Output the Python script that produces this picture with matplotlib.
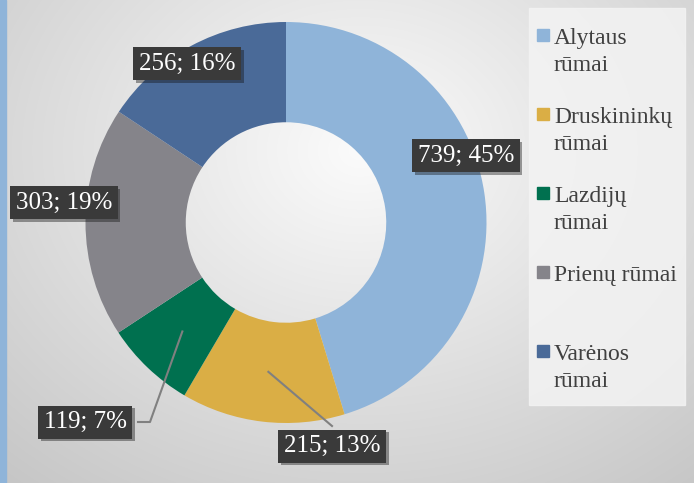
import numpy as np
import matplotlib
matplotlib.use("Agg")
import matplotlib.pyplot as plt
from matplotlib.patches import Rectangle
import matplotlib.patheffects as pe

plt.rcParams["font.family"] = ["Liberation Serif", "DejaVu Serif"]

categories = ["Alytaus rūmai", "Druskininkų rūmai", "Lazdijų rūmai", "Prienų rūmai", "Varėnos rūmai"]
legend_labels = ["Alytaus\nrūmai", "Druskininkų\nrūmai", "Lazdijų\nrūmai", "Prienų rūmai", "Varėnos\nrūmai"]
values = [739, 215, 119, 303, 256]
colors = ["#8FB4D9", "#DAAE45", "#00704F", "#85848A", "#4A6A98"]

# label box centres in pixels (layout), and whether a leader line is drawn
label_px = [(466, 156), (332, 446), (85, 422), (64, 203), (187, 64)]
leaders = [False, True, True, False, False]

W, H = 694, 483
cx, cy, R = 286, 222.5, 200.5

fig = plt.figure(figsize=(W / 100, H / 100), dpi=100)

# background gradient
bg = fig.add_axes([0, 0, 1, 1])
yy, xx = np.mgrid[0:H, 0:W]
d = np.sqrt(((xx - 360) / 520) ** 2 + ((yy - 150) / 420) ** 2)
shade = np.clip(0.985 - 0.2 * d, 0.77, 1)
bg.imshow(np.dstack([shade] * 3), extent=[0, W, H, 0], aspect="auto")
bg.add_patch(Rectangle((0, 0), 6, H, color="#8FB4D9"))
bg.add_patch(Rectangle((529, 8), 156, 397, color="#F3F3F3", alpha=0.85))
bg.set_xlim(0, W)
bg.set_ylim(H, 0)
bg.axis("off")

ax = fig.add_axes([0, 0, 1, 1])
ax.patch.set_alpha(0)
wedges, _ = ax.pie(values, colors=colors, startangle=90, counterclock=False,
                   radius=1, center=(0, 0), wedgeprops=dict(width=0.5, linewidth=0))
ax.set_xlim(-cx / R, (W - cx) / R)
ax.set_ylim((cy - H) / R, cy / R)
ax.set_aspect("auto")
ax.axis("off")


def px(p):
    return ((p[0] - cx) / R, (cy - p[1]) / R)


total = sum(values)
for w, v, lp, lead in zip(wedges, values, label_px, leaders):
    mid = np.deg2rad((w.theta1 + w.theta2) / 2)
    lx, ly = px(lp)
    if lead:
        sx, sy = 0.75 * np.cos(mid), 0.75 * np.sin(mid)
        if lx < sx - 0.3:
            ex = lx + 53 / R
            ax.plot([sx, ex + 12 / R, ex], [sy, ly, ly], color="#808080", lw=1.5, zorder=3)
        else:
            ax.plot([sx, lx], [sy, ly + 20 / R], color="#808080", lw=1.5, zorder=3)
    t = ax.text(lx, ly, f"{v}; {round(v / total * 100)}%", ha="center", va="center",
                fontsize=18, color="white", zorder=5,
                bbox=dict(boxstyle="square,pad=0.22", fc="#3A3A3A", ec="none"))
    t.get_bbox_patch().set_path_effects([pe.SimplePatchShadow(offset=(2, -2), alpha=0.4), pe.Normal()])

# legend
for i, (lab, c) in enumerate(zip(legend_labels, colors)):
    base = 44 + 79 * i
    bg.add_patch(Rectangle((537, base - 15), 12, 12, color=c))
    for j, line in enumerate(lab.split("\n")):
        bg.text(554, base + 27 * j, line, fontsize=17,
                color="#404040", va="baseline", ha="left")

fig.savefig("out.png", dpi=100)
